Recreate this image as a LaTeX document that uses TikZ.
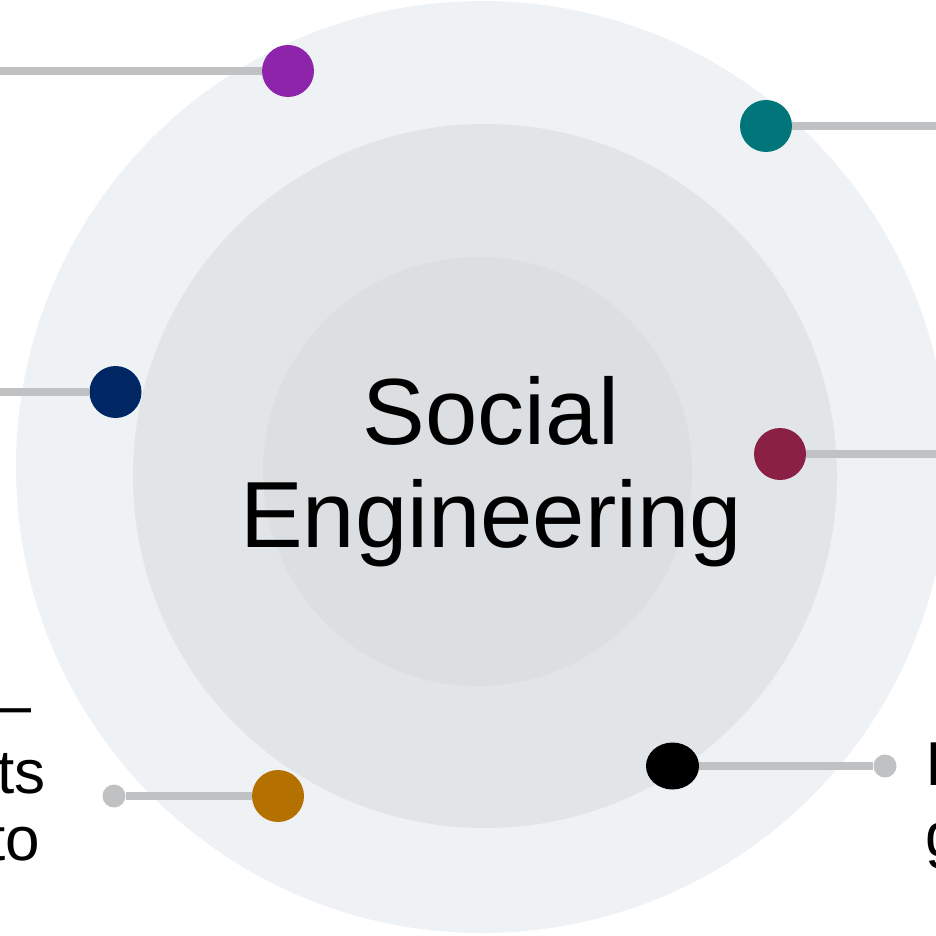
\documentclass[tikz,border=0pt]{standalone}
\usepackage{fontspec}
\setmainfont{Liberation Sans}
\usetikzlibrary{backgrounds,shapes.geometric}
\definecolor{ringA}{RGB}{239,242,245}
\definecolor{ringB}{RGB}{226,229,232}
\definecolor{ringC}{RGB}{220,223,226}
\definecolor{linegray}{RGB}{192,193,194}
\definecolor{cPurple}{RGB}{142,36,170}
\definecolor{cTeal}{RGB}{0,118,122}
\definecolor{cNavy}{RGB}{0,38,99}
\definecolor{cMaroon}{RGB}{138,32,67}
\definecolor{cGold}{RGB}{180,113,0}
\begin{document}
\begin{tikzpicture}[x=1pt,y=-1pt,
  dot/.style={circle,minimum size=52pt,inner sep=0pt,draw=none},
  enddot/.style={circle,minimum size=23pt,inner sep=0pt,fill=linegray},
  conn/.style={draw=linegray,line width=8pt},
  side/.style={inner sep=0pt,font=\fontsize{62}{67}\selectfont}]
\useasboundingbox (0,0) rectangle (935,936);
% dots
\node[dot,fill=cPurple] (pd) at (288,71) {};
\node[dot,fill=cTeal] (td) at (766,126) {};
\node[dot,fill=cNavy] (nd) at (115.5,392) {};
\node[dot,fill=cMaroon] (md) at (780,454) {};
\node[dot,fill=cGold] (gd) at (278,796) {};
\node[ellipse,fill=black,minimum width=53pt,minimum height=47pt,inner sep=0pt] (bd) at (672.5,766) {};
\node[enddot] (ge) at (114,796) {};
\node[enddot] (be) at (885,766) {};
\coordinate (pe) at (-10,71);
\coordinate (te) at (945,126);
\coordinate (ne) at (-10,392);
\coordinate (me) at (945,454);
% center label
\node[inner sep=0pt,align=center,font=\fontsize{94}{103}\selectfont] (title) at (491,472) {Social\\Engineering};
% side texts
\node[side,anchor=base east] (l1) at (32,726) {—};
\node[side,anchor=base east] (l2) at (46,793) {ts};
\node[side,anchor=base east] (l3) at (40,860) {to};
\node[side,anchor=base west] (r1) at (925,785) {I};
\node[side,anchor=base west] (r2) at (925,856) {g};
\begin{scope}[on background layer]
  \fill[ringA] (482,467) circle (466);
  \fill[ringB] (485,476) circle (352);
  \fill[ringC] (477.5,471.5) circle (214.5);
  \draw[conn] (pe) -- (pd);
  \draw[conn] (td) -- (te);
  \draw[conn] (ne) -- (nd);
  \draw[conn] (md) -- (me);
  \draw[conn] (ge) -- (gd);
  \draw[conn] (bd) -- (be);
\end{scope}
\end{tikzpicture}
\end{document}
